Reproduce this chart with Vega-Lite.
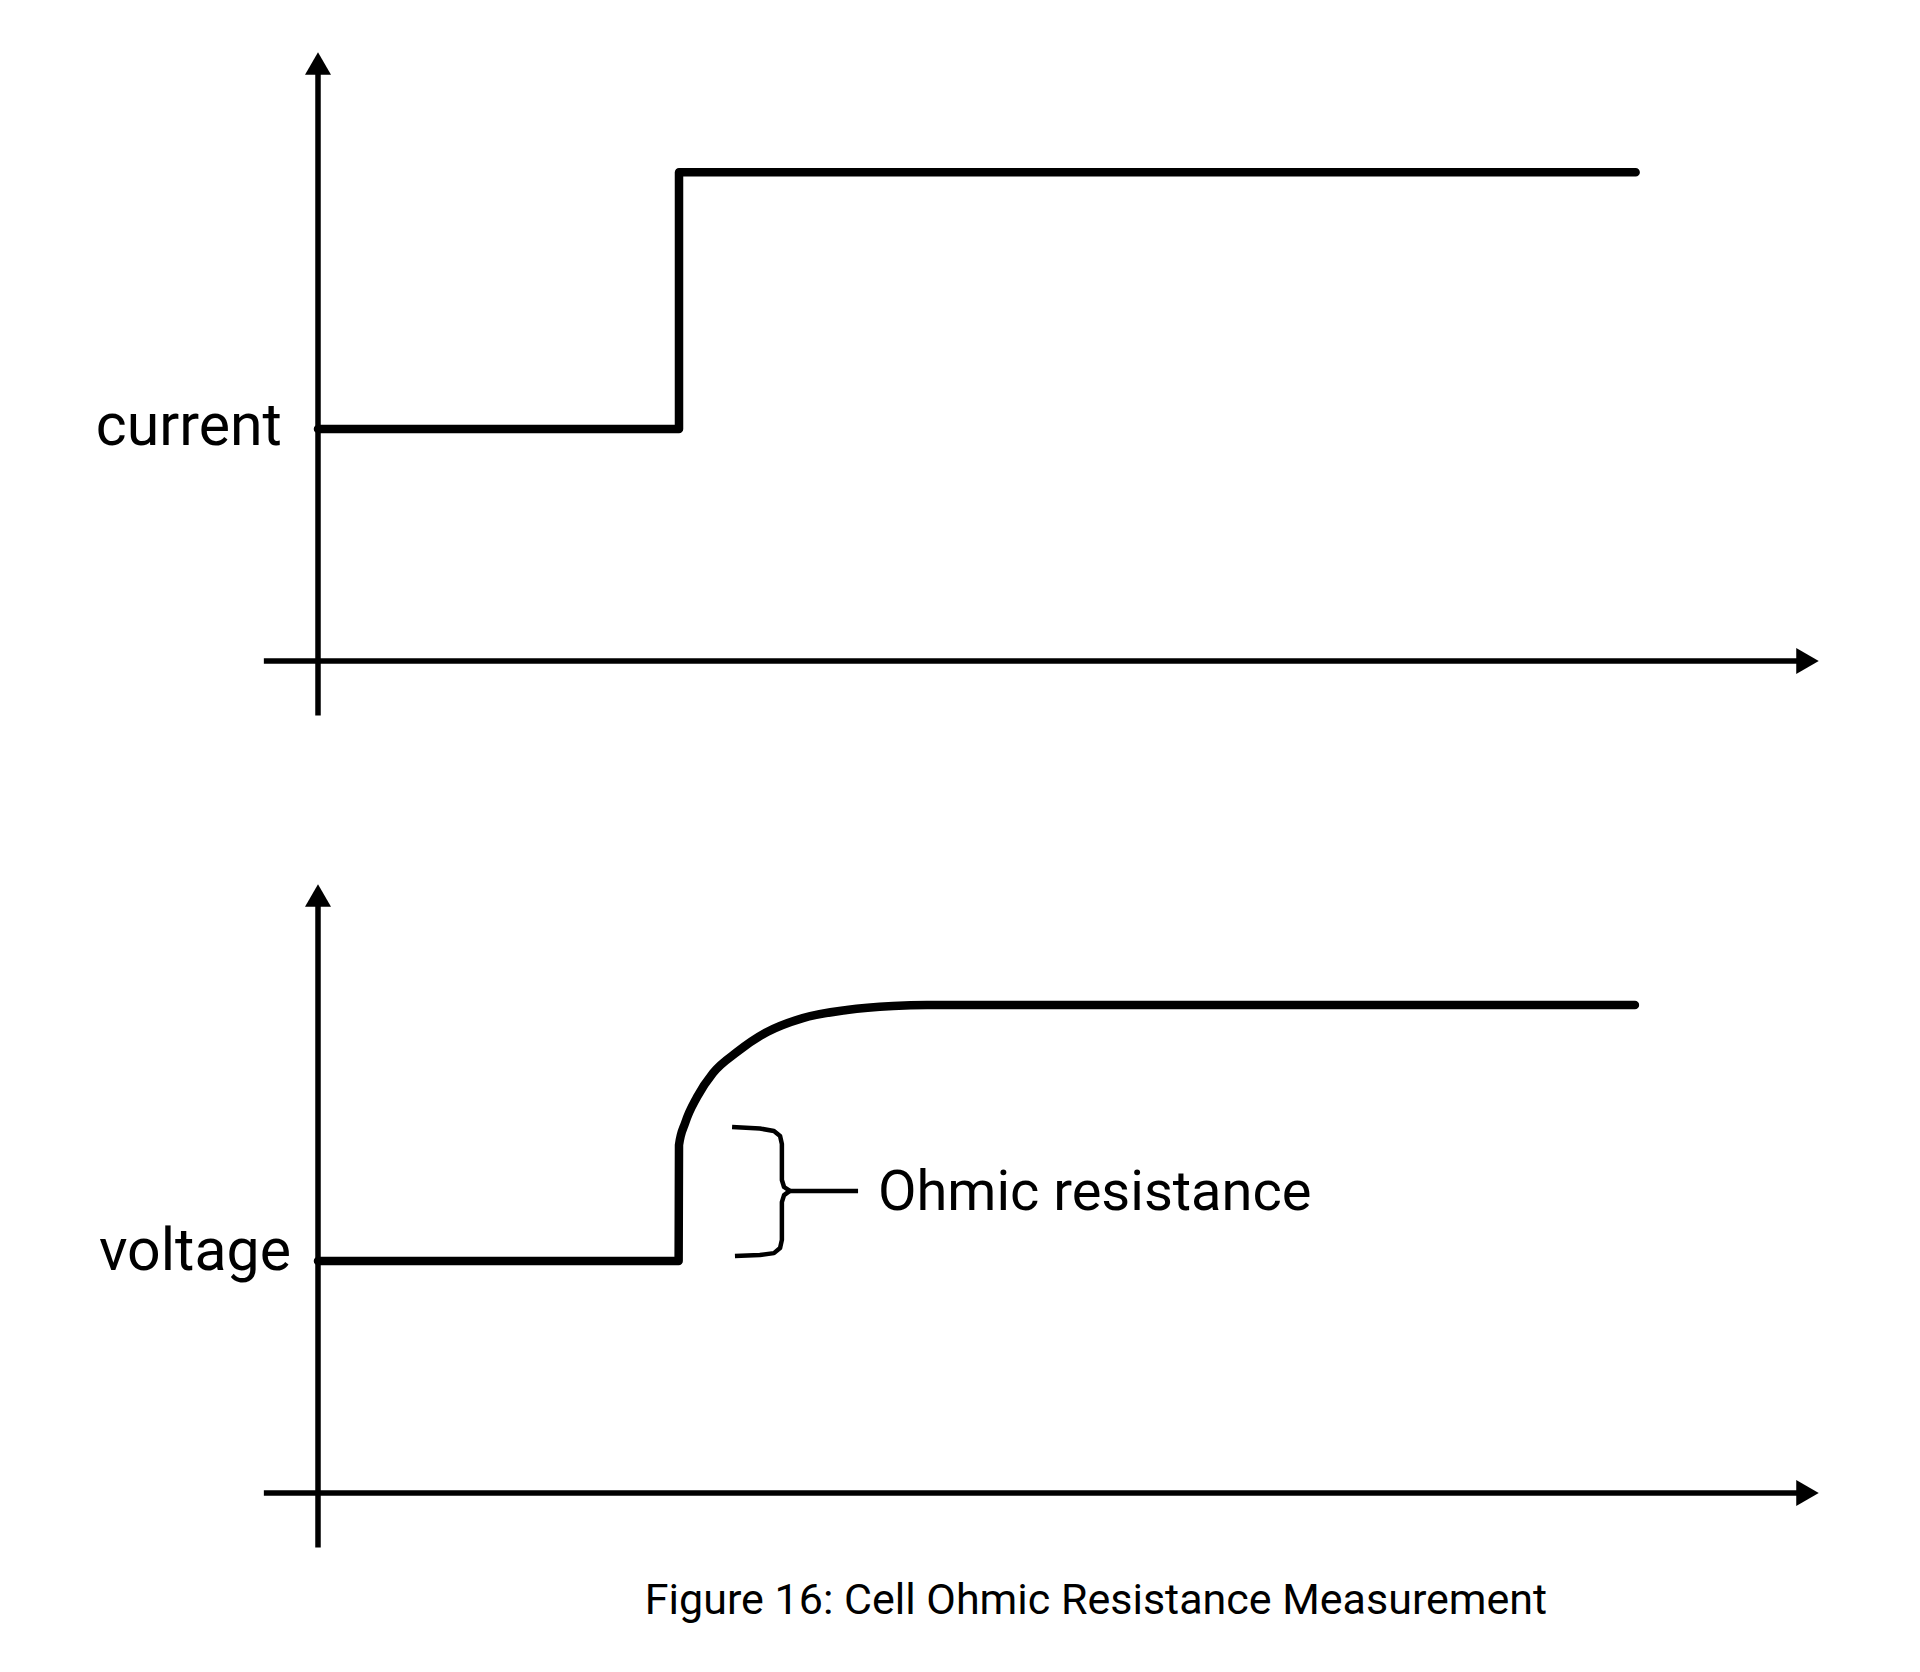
{
  "$schema": "https://vega.github.io/schema/vega-lite/v6.json",
  "background": "white",
  "padding": {"left": 0, "top": 0, "right": 0, "bottom": 40},
  "spacing": 0,
  "config": {"view": {"stroke": null}, "font": "Roboto"},
  "title": {"text": "Figure 16: Cell Ohmic Resistance Measurement", "orient": "bottom", "anchor": "middle", "fontSize": 43, "fontWeight": "normal", "font": "Roboto", "color": "#000", "dx": 136, "offset": 20},
  "datasets": {
    "axes": [
      {"x": -1.5, "x2": 41.26, "y": 0, "y2": 0},
      {"x": 0, "x2": 0, "y": -2.35, "y2": 25.75}
    ],
    "arrows": [
      {"t": 41.26, "v": 0, "dir": "x"},
      {"t": 0, "v": 25.75, "dir": "y"}
    ],
    "current": [
      {"i": 0, "t": 0, "current": 10},
      {"i": 1, "t": 10, "current": 10},
      {"i": 2, "t": 10, "current": 21.07},
      {"i": 3, "t": 36.5, "current": 21.07}
    ],
    "voltage": [
      {"i": 0, "t": 0, "voltage": 10},
      {"i": 1, "t": 9.99, "voltage": 10},
      {"i": 2, "t": 10.0, "voltage": 15.0},
      {"i": 3, "t": 10.17, "voltage": 15.95},
      {"i": 4, "t": 10.5, "voltage": 17.07},
      {"i": 5, "t": 10.94, "voltage": 18.1},
      {"i": 6, "t": 11.61, "voltage": 19.01},
      {"i": 7, "t": 12.44, "voltage": 19.87},
      {"i": 8, "t": 13.43, "voltage": 20.47},
      {"i": 9, "t": 14.65, "voltage": 20.82},
      {"i": 10, "t": 15.93, "voltage": 20.99},
      {"i": 11, "t": 16.87, "voltage": 21.03},
      {"i": 12, "t": 36.48, "voltage": 21.03}
    ],
    "brace": [
      {"part": "arc", "i": 1, "t": 11.47, "v": 15.78},
      {"part": "arc", "i": 2, "t": 12.24, "v": 15.71},
      {"part": "arc", "i": 3, "t": 12.63, "v": 15.6},
      {"part": "arc", "i": 4, "t": 12.8, "v": 15.39},
      {"part": "arc", "i": 5, "t": 12.85, "v": 15.04},
      {"part": "arc", "i": 6, "t": 12.85, "v": 13.49},
      {"part": "arc", "i": 7, "t": 12.91, "v": 13.19},
      {"part": "arc", "i": 8, "t": 13.07, "v": 13.02},
      {"part": "arc", "i": 9, "t": 12.91, "v": 12.84},
      {"part": "arc", "i": 10, "t": 12.85, "v": 12.54},
      {"part": "arc", "i": 11, "t": 12.85, "v": 10.91},
      {"part": "arc", "i": 12, "t": 12.8, "v": 10.56},
      {"part": "arc", "i": 13, "t": 12.63, "v": 10.34},
      {"part": "arc", "i": 14, "t": 12.24, "v": 10.26},
      {"part": "arc", "i": 15, "t": 11.55, "v": 10.22},
      {"part": "tick", "i": 1, "t": 13.0, "v": 13.02},
      {"part": "tick", "i": 2, "t": 14.96, "v": 13.02}
    ],
    "labelsTop": [
      {"t": -1.0, "v": 9.31, "label": "current"}
    ],
    "labelsBottom": [
      {"t": -0.75, "v": 9.61, "label": "voltage"}
    ],
    "annotation": [
      {"t": 15.51, "v": 12.2, "label": "Ohmic resistance"}
    ]
  },
  "vconcat": [
    {
      "width": 1920,
      "height": 832,
      "layer": [
        {
          "data": {"name": "axes"},
          "mark": {"type": "rule", "strokeWidth": 5.5, "color": "#000"},
          "encoding": {
            "x": {"field": "x", "type": "quantitative", "scale": {"domain": [-8.809, 44.377], "nice": false, "zero": false}, "axis": null},
            "x2": {"field": "x2"},
            "y": {"field": "y", "type": "quantitative", "scale": {"domain": [-7.371, 28.491], "nice": false, "zero": false}, "axis": null},
            "y2": {"field": "y2"}
          }
        },
        {
          "data": {"name": "arrows"},
          "mark": {"type": "point", "filled": true, "size": 676, "color": "#000", "opacity": 1, "strokeWidth": 0},
          "encoding": {
            "x": {"field": "t", "type": "quantitative", "scale": {"domain": [-8.809, 44.377], "nice": false, "zero": false}, "axis": null},
            "y": {"field": "v", "type": "quantitative", "scale": {"domain": [-7.371, 28.491], "nice": false, "zero": false}, "axis": null},
            "shape": {"field": "dir", "type": "nominal", "scale": {"domain": ["x", "y"], "range": ["triangle-right", "triangle-up"]}, "legend": null}
          }
        },
        {
          "data": {"name": "current"},
          "mark": {"type": "line", "strokeWidth": 8.5, "color": "#000", "strokeJoin": "round", "strokeCap": "round"},
          "encoding": {
            "x": {"field": "t", "type": "quantitative", "scale": {"domain": [-8.809, 44.377], "nice": false, "zero": false}, "axis": null},
            "y": {"field": "current", "type": "quantitative", "scale": {"domain": [-7.371, 28.491], "nice": false, "zero": false}, "axis": null},
            "order": {"field": "i", "type": "quantitative"}
          }
        },
        {
          "data": {"name": "labelsTop"},
          "mark": {"type": "text", "align": "right", "baseline": "alphabetic", "fontSize": 59, "font": "Roboto", "color": "#000"},
          "encoding": {
            "x": {"field": "t", "type": "quantitative", "scale": {"domain": [-8.809, 44.377], "nice": false, "zero": false}, "axis": null},
            "y": {"field": "v", "type": "quantitative", "scale": {"domain": [-7.371, 28.491], "nice": false, "zero": false}, "axis": null},
            "text": {"field": "label", "type": "nominal"}
          }
        }
      ]
    },
    {
      "width": 1920,
      "height": 728,
      "layer": [
        {
          "data": {"name": "axes"},
          "mark": {"type": "rule", "strokeWidth": 5.5, "color": "#000"},
          "encoding": {
            "x": {"field": "x", "type": "quantitative", "scale": {"domain": [-8.809, 44.377], "nice": false, "zero": false}, "axis": null},
            "x2": {"field": "x2"},
            "y": {"field": "y", "type": "quantitative", "scale": {"domain": [-2.888, 28.491], "nice": false, "zero": false}, "axis": null},
            "y2": {"field": "y2"}
          }
        },
        {
          "data": {"name": "arrows"},
          "mark": {"type": "point", "filled": true, "size": 676, "color": "#000", "opacity": 1, "strokeWidth": 0},
          "encoding": {
            "x": {"field": "t", "type": "quantitative", "scale": {"domain": [-8.809, 44.377], "nice": false, "zero": false}, "axis": null},
            "y": {"field": "v", "type": "quantitative", "scale": {"domain": [-2.888, 28.491], "nice": false, "zero": false}, "axis": null},
            "shape": {"field": "dir", "type": "nominal", "scale": {"domain": ["x", "y"], "range": ["triangle-right", "triangle-up"]}, "legend": null}
          }
        },
        {
          "data": {"name": "voltage"},
          "mark": {"type": "line", "strokeWidth": 8.5, "color": "#000", "strokeJoin": "round", "strokeCap": "round", "interpolate": "monotone"},
          "encoding": {
            "x": {"field": "t", "type": "quantitative", "scale": {"domain": [-8.809, 44.377], "nice": false, "zero": false}, "axis": null},
            "y": {"field": "voltage", "type": "quantitative", "scale": {"domain": [-2.888, 28.491], "nice": false, "zero": false}, "axis": null},
            "order": {"field": "i", "type": "quantitative"}
          }
        },
        {
          "data": {"name": "brace"},
          "mark": {"type": "line", "strokeWidth": 4.5, "color": "#000", "strokeJoin": "round", "strokeCap": "butt"},
          "encoding": {
            "x": {"field": "t", "type": "quantitative", "scale": {"domain": [-8.809, 44.377], "nice": false, "zero": false}, "axis": null},
            "y": {"field": "v", "type": "quantitative", "scale": {"domain": [-2.888, 28.491], "nice": false, "zero": false}, "axis": null},
            "detail": {"field": "part", "type": "nominal"},
            "order": {"field": "i", "type": "quantitative"}
          }
        },
        {
          "data": {"name": "labelsBottom"},
          "mark": {"type": "text", "align": "right", "baseline": "alphabetic", "fontSize": 59, "font": "Roboto", "color": "#000"},
          "encoding": {
            "x": {"field": "t", "type": "quantitative", "scale": {"domain": [-8.809, 44.377], "nice": false, "zero": false}, "axis": null},
            "y": {"field": "v", "type": "quantitative", "scale": {"domain": [-2.888, 28.491], "nice": false, "zero": false}, "axis": null},
            "text": {"field": "label", "type": "nominal"}
          }
        },
        {
          "data": {"name": "annotation"},
          "mark": {"type": "text", "align": "left", "baseline": "alphabetic", "fontSize": 56, "font": "Roboto", "color": "#000"},
          "encoding": {
            "x": {"field": "t", "type": "quantitative", "scale": {"domain": [-8.809, 44.377], "nice": false, "zero": false}, "axis": null},
            "y": {"field": "v", "type": "quantitative", "scale": {"domain": [-2.888, 28.491], "nice": false, "zero": false}, "axis": null},
            "text": {"field": "label", "type": "nominal"}
          }
        }
      ]
    }
  ]
}
